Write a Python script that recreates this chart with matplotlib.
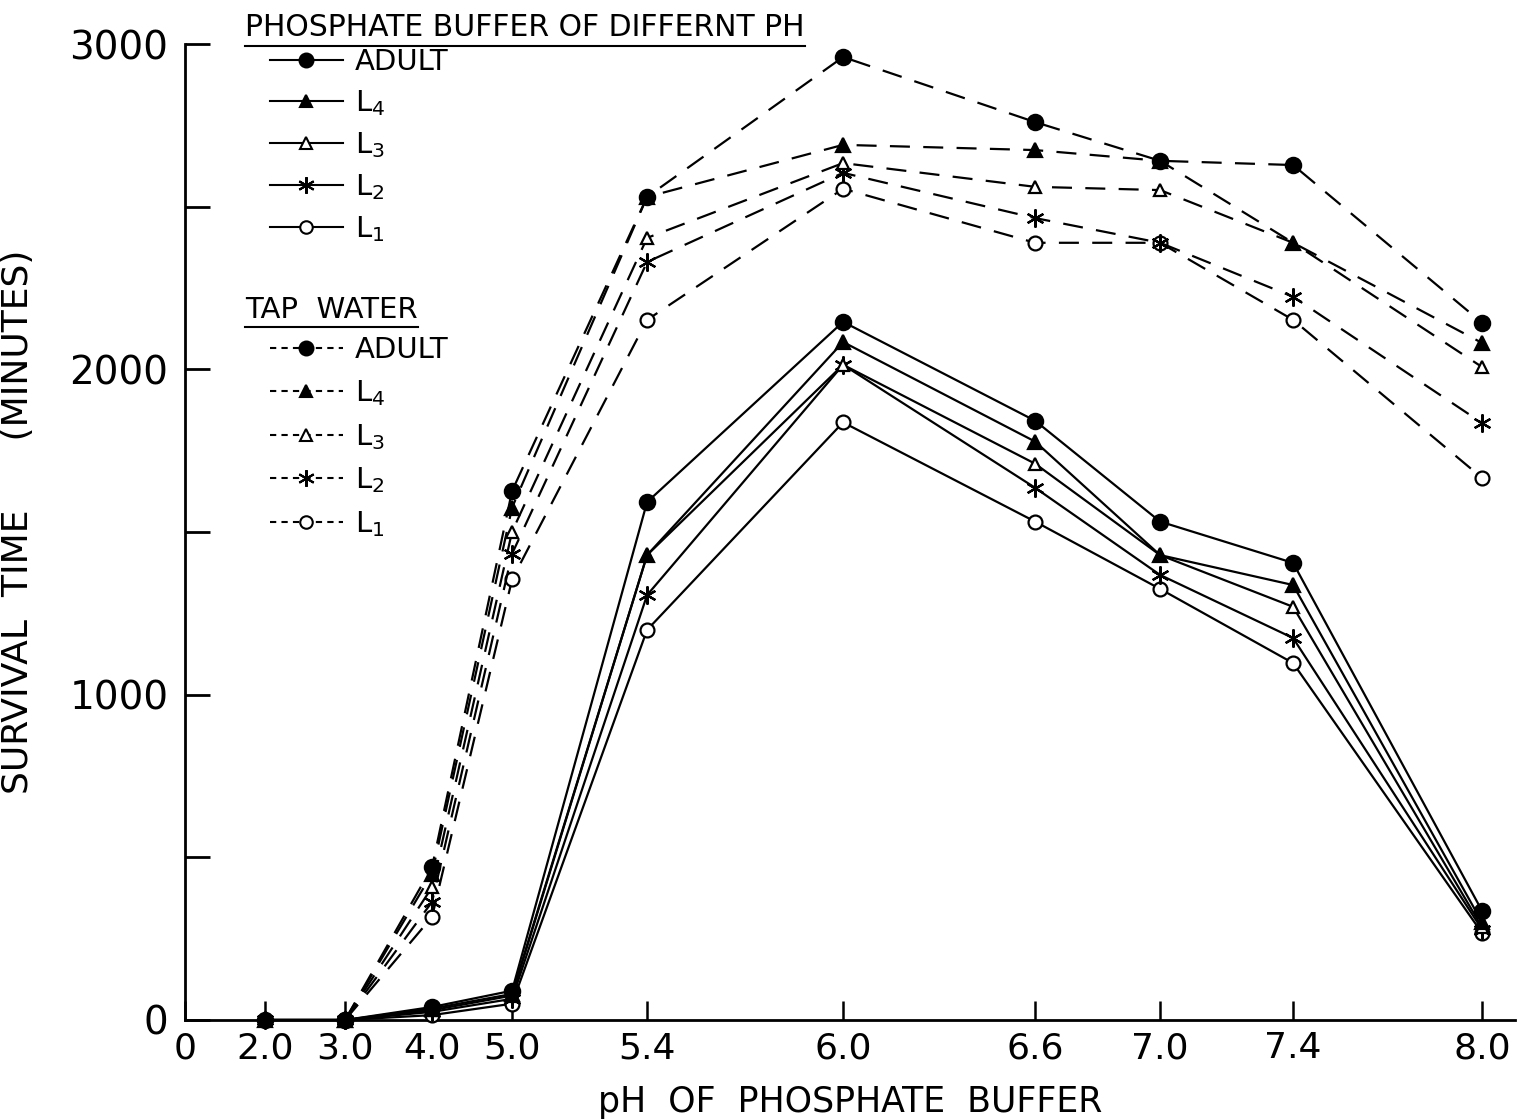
import matplotlib
matplotlib.use('Agg')
import matplotlib.pyplot as plt
from matplotlib.lines import Line2D

plt.rcParams['font.family'] = ['DejaVu Sans']
plt.rcParams['mathtext.default'] = 'regular'

# pH ticks of the original drawing are not evenly spaced
ph_labels = ['0', '2.0', '3.0', '4.0', '5.0', '5.4', '6.0', '6.6', '7.0', '7.4', '8.0']
ph_pos = [0, 0.80, 1.60, 2.47, 3.27, 4.62, 6.58, 8.50, 9.75, 11.08, 12.97]

stages = ['ADULT', 'L$_4$', 'L$_3$', 'L$_2$', 'L$_1$']

# phosphate buffer (solid), pH 2.0 ... 8.0
buffer_adult = [0, 0, 40, 90, 1592, 2146, 1842, 1532, 1405, 335]
buffer_l4 = [0, 0, 35, 80, 1429, 2084, 1778, 1429, 1337, 300]
buffer_l3 = [0, 0, 30, 75, 1429, 2014, 1710, 1429, 1270, 285]
buffer_l2 = [0, 0, 25, 65, 1306, 2014, 1636, 1368, 1174, 278]
buffer_l1 = [0, 0, 15, 50, 1199, 1837, 1532, 1325, 1097, 267]

# tap water (dashed), pH 3.0 ... 8.0
tap_adult = [0, 470, 1626, 2530, 2960, 2760, 2641, 2628, 2143]
tap_l4 = [0, 450, 1575, 2530, 2690, 2674, 2641, 2389, 2081]
tap_l3 = [0, 408, 1501, 2404, 2634, 2561, 2551, 2389, 2007]
tap_l2 = [0, 363, 1433, 2330, 2604, 2465, 2389, 2223, 1835]
tap_l1 = [0, 317, 1354, 2152, 2555, 2389, 2389, 2152, 1666]

buffer_series = [buffer_adult, buffer_l4, buffer_l3, buffer_l2, buffer_l1]
tap_series = [tap_adult, tap_l4, tap_l3, tap_l2, tap_l1]

# marker, size, face colour per stage
styles = [('o', 11, 'k'), ('^', 10, 'k'), ('^', 9, 'white'),
          ((6, 2, 0), 13, 'k'), ('o', 10, 'white')]

fig = plt.figure(figsize=(15.18, 11.2), dpi=100)
ax = fig.add_axes([0.1219, 0.0893, 0.8762, 0.8714])

x_buffer = ph_pos[1:]
x_tap = ph_pos[2:]

# draw L1 first so the adult markers end up on top
for i in reversed(range(5)):
    m, ms, fc = styles[i]
    ax.plot(x_buffer, buffer_series[i], color='k', lw=1.6, marker=m, ms=ms,
            mfc=fc, mec='k', mew=1.6, clip_on=False, zorder=3 + (5 - i))
    ax.plot(x_tap, tap_series[i], color='k', lw=1.6, dashes=(9, 6), marker=m,
            ms=ms, mfc=fc, mec='k', mew=1.6, clip_on=False, zorder=3 + (5 - i))

ax.set_xlim(0, 13.3)
ax.set_ylim(0, 3000)
ax.set_xticks(ph_pos)
ax.set_xticklabels(ph_labels)
ax.set_yticks([0, 1000, 2000, 3000])
ax.set_yticks([500, 1500, 2500], minor=True)

for s in ['top', 'right']:
    ax.spines[s].set_visible(False)
for s in ['left', 'bottom']:
    ax.spines[s].set_linewidth(2)

ax.tick_params(axis='y', which='both', direction='in', length=18, width=2,
               labelsize=28, pad=12)
ax.tick_params(axis='x', direction='in', length=14, width=1.8,
               labelsize=26, pad=8)

ax.set_xlabel('pH  OF  PHOSPHATE  BUFFER', fontsize=25, labelpad=14)
ax.set_ylabel('SURVIVAL  TIME      (MINUTES)', fontsize=26)
ax.yaxis.set_label_coords(-0.113, 0.51)

# legends
def make_handles(dashed):
    hs = []
    for m, ms, fc in styles:
        kw = dict(color='k', lw=1.5, marker=m, ms=ms - 1, mfc=fc, mec='k', mew=1.5)
        if dashed:
            kw['dashes'] = (3, 2.5)
        hs.append(Line2D([], [], **kw))
    return hs

t1 = fig.text(245 / 1518, 1 - 28 / 1120, 'PHOSPHATE BUFFER OF DIFFERNT PH',
              fontsize=21.5, va='center', ha='left')
leg1 = fig.legend(make_handles(False), stages, loc='upper left',
                  bbox_to_anchor=(270 / 1518, 1 - 48 / 1120), frameon=False,
                  fontsize=21, handlelength=2.5, handletextpad=0.4,
                  labelspacing=0.42, borderpad=0, borderaxespad=0, numpoints=1)

t2 = fig.text(245 / 1518, 1 - 310 / 1120, 'TAP  WATER',
              fontsize=21, va='center', ha='left')
leg2 = fig.legend(make_handles(True), stages, loc='upper left',
                  bbox_to_anchor=(270 / 1518, 1 - 336 / 1120), frameon=False,
                  fontsize=21, handlelength=2.5, handletextpad=0.4,
                  labelspacing=0.48, borderpad=0, borderaxespad=0, numpoints=1)

# underline the two legend headings
fig.canvas.draw()
r = fig.canvas.get_renderer()
inv = fig.transFigure.inverted()
for t in (t1, t2):
    bb = t.get_window_extent(r)
    (x0, y0), (x1, _) = inv.transform([(bb.x0, bb.y0 - 3), (bb.x1, bb.y0 - 3)])
    fig.add_artist(Line2D([x0, x1], [y0, y0], color='k', lw=1.5,
                          transform=fig.transFigure))

fig.savefig('out.png', dpi=100)
